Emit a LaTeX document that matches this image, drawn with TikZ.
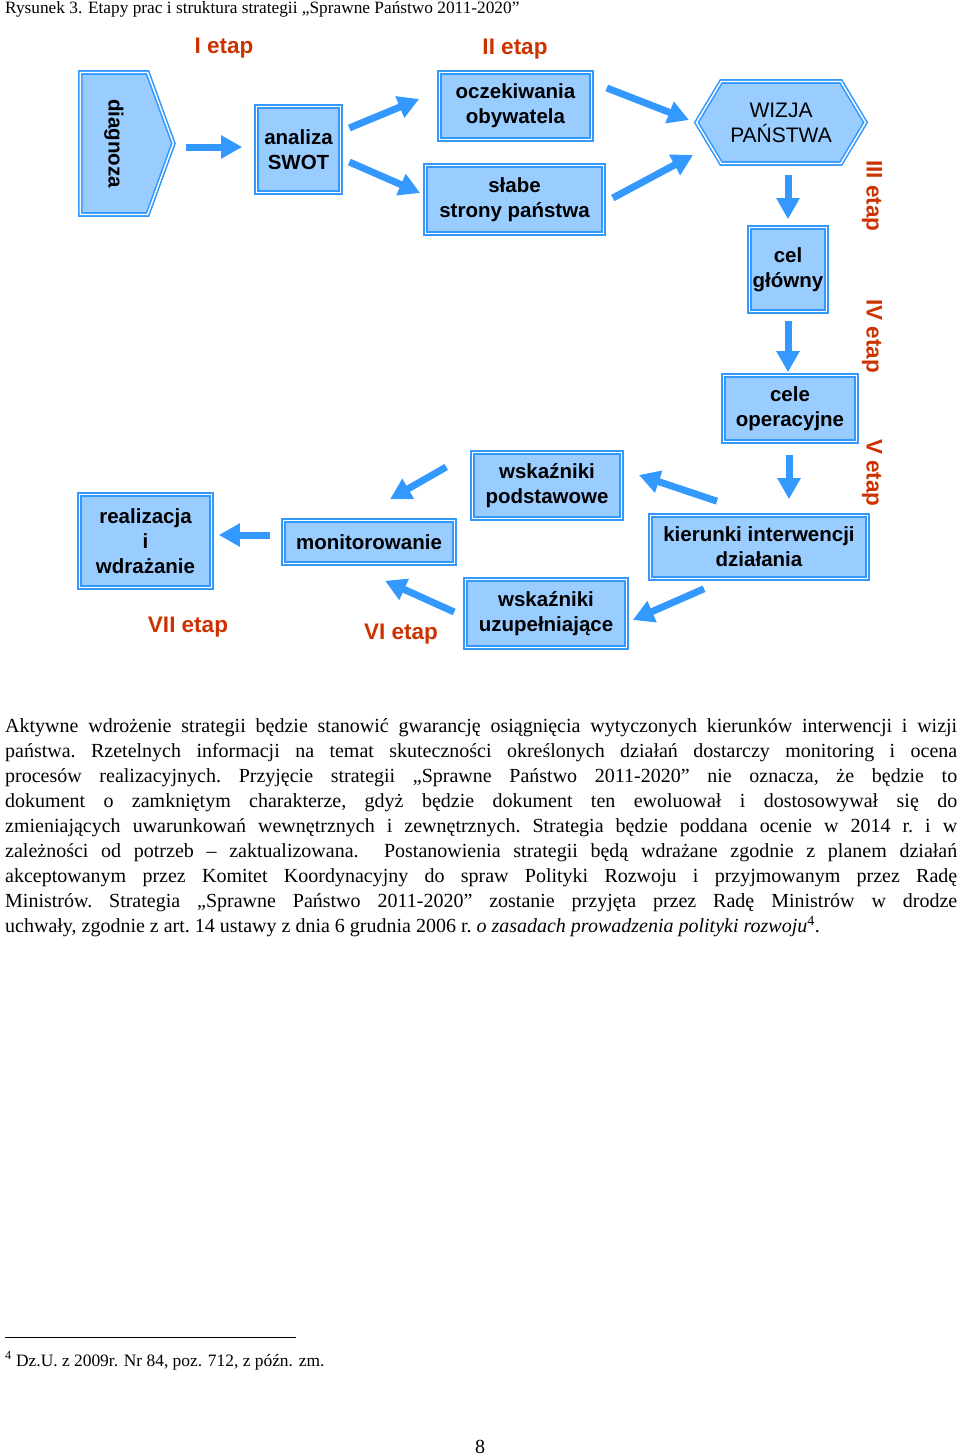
\documentclass[tikz,border=0pt]{standalone}
\usepackage{fontspec}
\setmainfont{Liberation Serif}
\newfontfamily\diagfont{Liberation Sans}
\usetikzlibrary{arrows.meta, shapes.symbols}
\definecolor{boxfill}{RGB}{153,204,255}
\definecolor{boxline}{RGB}{51,153,255}
\definecolor{etapred}{RGB}{204,51,0}

\begin{document}
\begin{tikzpicture}[x=1pt, y=-1pt,
  box/.style={
    draw=boxline, double=white, double distance=1.4pt, line width=1.6pt,
    fill=boxfill, inner sep=0pt, align=center,
    font=\diagfont\bfseries\fontsize{20.5}{25}\selectfont
  },
  hexbox/.style={
    box, signal, signal to=east and west, signal pointer angle=118,
    font=\diagfont\fontsize{21}{25}\selectfont
  },
  etap/.style={text=etapred, inner sep=0pt,
    font=\diagfont\bfseries\fontsize{22.5}{27}\selectfont},
  arr/.style={draw=boxline, line width=7pt, -{Triangle[length=21pt, width=22pt]}}
]
  \useasboundingbox (0,0) rectangle (960,1456);

  \node[anchor=base west, inner sep=0pt, font=\fontsize{17.3}{20}\selectfont] (capt) at (5,13)
    {Rysunek 3. Etapy prac i struktura strategii „Sprawne Państwo 2011-2020”};

  % stages I - II
  \node[box, signal, signal to=east, signal pointer angle=140,
        minimum width=93pt, minimum height=142pt] (diag) at (114,143.5) {\rotatebox{-90}{diagnoza}};
  \node[box, minimum width=84pt, minimum height=86pt] (swot) at (298.5,149.5) {analiza\\SWOT};
  \node[box, minimum width=152pt, minimum height=67pt] (ocz) at (515.5,106) {oczekiwania\\obywatela};
  \node[box, minimum width=178pt, minimum height=68pt] (slabe) at (514.5,199.5) {słabe\\strony państwa};

  % stages III - V
  \node[hexbox, minimum width=169pt, minimum height=82pt] (wizja) at (781,122.5) {WIZJA\\PAŃSTWA};
  \node[box, minimum width=77pt, minimum height=84pt] (cel) at (788,269.5) {cel\\główny};
  \node[box, minimum width=133pt, minimum height=66pt] (celeop) at (790,408.5) {cele\\operacyjne};
  \node[box, minimum width=217pt, minimum height=63pt] (kier) at (759,547) {kierunki interwencji\\działania};

  % stages VI - VII
  \node[box, minimum width=149pt, minimum height=66pt] (wpodst) at (547,485.5) {wskaźniki\\podstawowe};
  \node[box, minimum width=161pt, minimum height=68pt] (wuzup) at (546,613.5) {wskaźniki\\uzupełniające};
  \node[box, minimum width=171pt, minimum height=43pt] (monit) at (369,542) {monitorowanie};
  \node[box, minimum width=132pt, minimum height=93pt] (realiz) at (145.5,541) {realizacja\\i\\wdrażanie};

  \node[etap] (e1) at (224,48) {I etap};
  \node[etap] (e2) at (515,49) {II etap};
  \node[etap, rotate=-90] (e3) at (872,196) {III etap};
  \node[etap, rotate=-90] (e4) at (872,336) {IV etap};
  \node[etap, rotate=-90] (e5) at (872,473) {V etap};
  \node[etap] (e6) at (401,634) {VI etap};
  \node[etap] (e7) at (188,627) {VII etap};

  \draw[arr] ([shift={(12,3.5)}]diag.east) -- ([shift={(-13.5,-2.5)}]swot.west);
  \draw[arr] ([shift={(8,-21.5)}]swot.east) -- ([shift={(-19.5,-7)}]ocz.west);
  \draw[arr] ([shift={(8,12.5)}]swot.east) -- ([shift={(-4.5,-6.5)}]slabe.west);
  \draw[arr] ([shift={(14.5,-18)}]ocz.east) -- ([shift={(-6.5,-2.5)}]wizja.west);
  \draw[arr] ([shift={(8.5,-1.5)}]slabe.east) -- ([shift={(-2.5,32.5)}]wizja.west);
  \draw[arr] ([shift={(7,10.5)}]wizja.south) -- ([shift={(0,-7.5)}]cel.north);
  \draw[arr] ([shift={(0,9)}]cel.south) -- ([shift={(-2,-2.5)}]celeop.north);
  \draw[arr] ([shift={(-1,12.5)}]celeop.south) -- ([shift={(30,-15.5)}]kier.north);
  \draw[arr] ([shift={(-42,-13.5)}]kier.north) -- ([shift={(16.5,-10.5)}]wpodst.east);
  \draw[arr] ([shift={(-55,9.5)}]kier.south) -- ([shift={(5.5,6.5)}]wuzup.east);
  \draw[arr] ([shift={(-25.5,-18.5)}]wpodst.west) -- ([shift={(21,-20.5)}]monit.north);
  \draw[arr] ([shift={(-10.5,-1.5)}]wuzup.west) -- ([shift={(16,16.5)}]monit.south);
  \draw[arr] ([shift={(-12.5,-7)}]monit.west) -- ([shift={(6.5,-6)}]realiz.east);

  \node[anchor=north west, inner sep=0pt, text width=952pt, align=justify,
        font=\fontsize{20}{25.1}\selectfont] (body) at (5,718)
  {\tolerance=9999 \hbadness=10000 \frenchspacing
   Aktywne wdrożenie strategii będzie stanowić gwarancję osiągnięcia wytyczonych kierunków interwencji i wizji\linebreak
   państwa. Rzetelnych informacji na temat skuteczności określonych działań dostarczy monitoring i ocena\linebreak
   procesów realizacyjnych. Przyjęcie strategii „Sprawne Państwo 2011-2020” nie oznacza, że będzie to\linebreak
   dokument o zamkniętym charakterze, gdyż będzie dokument ten ewoluował i dostosowywał się do\linebreak
   zmieniających uwarunkowań wewnętrznych i zewnętrznych. Strategia będzie poddana ocenie w 2014 r. i w\linebreak
   zależności od potrzeb – zaktualizowana. \ Postanowienia strategii będą wdrażane zgodnie z planem działań\linebreak
   akceptowanym przez Komitet Koordynacyjny do spraw Polityki Rozwoju i przyjmowanym przez Radę\linebreak
   Ministrów. Strategia „Sprawne Państwo 2011-2020” zostanie przyjęta przez Radę Ministrów w drodze\linebreak
   uchwały, zgodnie z art. 14 ustawy z dnia 6 grudnia 2006 r. \textit{o zasadach prowadzenia polityki rozwoju}\textsuperscript{4}.};

  % footnote
  \draw[line width=0.8pt] (5,1337) -- (296,1337);
  \node[anchor=base west, inner sep=0pt, font=\fontsize{17.4}{20}\selectfont] (foot) at (5,1366)
    {\textsuperscript{4} Dz.U. z 2009r. Nr 84, poz. 712, z późn. zm.};
  \node[anchor=base, inner sep=0pt, font=\fontsize{20}{24}\selectfont] (pnum) at (480,1453) {8};
\end{tikzpicture}
\end{document}
